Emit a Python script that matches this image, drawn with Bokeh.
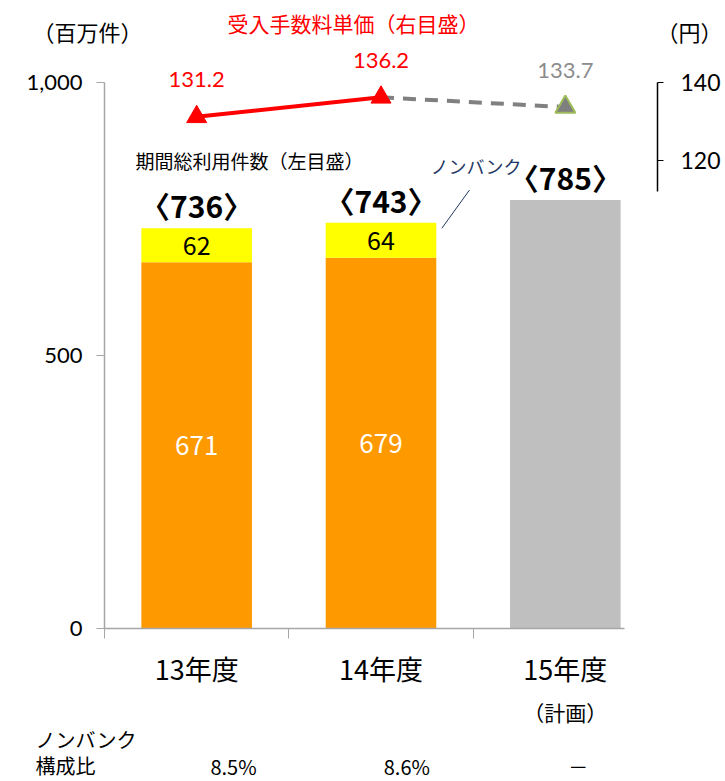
from bokeh.plotting import figure
from bokeh.models import Range1d, LinearAxis, FixedTicker, NumeralTickFormatter, Label, Arrow
from bokeh.core.properties import value
from bokeh.embed import file_html
from bokeh.resources import INLINE

# ---------------- data ----------------
categories = ["13年度", "14年度", "15年度"]
bank_counts = [671, 679]          # 百万件 (actual, excl. non-bank)
nonbank_counts = [62, 64]         # ノンバンク
total_labels = ["〈736〉", "〈743〉", "〈785〉"]
plan_total = [785]                # 15年度 計画
unit_price = [131.2, 136.2, 133.7]  # 受入手数料単価 (円)
nonbank_ratio = ["8.5%", "8.6%", "－"]
left_ticks = [0, 500, 1000]
right_ticks = [120, 140]

# ---------------- layout constants ----------------
W, H = 725, 781
FL, FR, FB = 104, 657, 628   # plot-area left / right / bottom (px)
AX_TOP = 82                  # px where 1,000 and 140 sit
Y_MAX, P_MAX = 1000, 140
n_cat = len(categories)
cat_w = (FR - FL) / n_cat
y_per_px = Y_MAX / (FB - AX_TOP)
p_per_px = P_MAX / (FB - AX_TOP)

def ypx(py):
    return (FB - py) * y_per_px

def xpx(px):
    return (px - FL) / cat_w

CJK_S = "Noto Sans CJK JP"
NUM_S = "Lato"
CJK = value(CJK_S)
NUM = value(NUM_S)

p = figure(width=W, height=H,
           x_range=Range1d(xpx(0), xpx(W)),
           y_range=Range1d(ypx(H), ypx(0)),
           output_backend="svg", toolbar_location=None, x_axis_type=None, y_axis_type=None,
           min_border_left=0, min_border_right=0, min_border_top=0, min_border_bottom=0)
p.extra_y_ranges = {"price": Range1d((FB - H) * p_per_px, FB * p_per_px)}
p.outline_line_color = None
p.background_fill_color = "white"
p.border_fill_color = "white"

xs = [i + 0.5 for i in range(n_cat)]
n_act = len(bank_counts)
stack_tops = [b + n for b, n in zip(bank_counts, nonbank_counts)]

# bars
p.vbar(x=xs[:n_act], bottom=0, top=bank_counts, width=0.6, fill_color="#FF9900", line_color=None)
p.vbar(x=xs[:n_act], bottom=bank_counts, top=stack_tops, width=0.6, fill_color="#FFFF00", line_color=None)
p.vbar(x=xs[n_act:], bottom=0, top=plan_total, width=0.6, fill_color="#BFBFBF", line_color=None)

# in-bar labels
p.text(x=xs[:n_act], y=[b / 2 for b in bank_counts], text=[str(v) for v in bank_counts],
       text_color="white", text_font=CJK, text_font_size="26px", text_align="center", text_baseline="middle")
p.text(x=xs[:n_act], y=[(b + t) / 2 for b, t in zip(bank_counts, stack_tops)], text=[str(v) for v in nonbank_counts],
       text_color="black", text_font=CJK, text_font_size="25px", text_align="center", text_baseline="middle")

# totals
all_tops = stack_tops + plan_total
p.text(x=xs, y=all_tops, text=total_labels, y_offset=-23, text_color="black", text_font=CJK,
       text_font_style="bold", text_font_size="30px", text_align="center", text_baseline="middle")

# price line
p.line(x=xs[n_act - 1:], y=unit_price[n_act - 1:], y_range_name="price", line_color="#808080",
       line_width=4, line_dash="13 9")
p.line(x=xs[:n_act], y=unit_price[:n_act], y_range_name="price", line_color="#FF0000", line_width=4)
p.scatter(x=xs[:n_act], y=unit_price[:n_act], y_range_name="price", marker="triangle", size=20,
          fill_color="#FF0000", line_color="#FF0000")
p.scatter(x=xs[n_act:], y=unit_price[n_act:], y_range_name="price", marker="triangle", size=20,
          fill_color="#7F7F7F", line_color="#9BBB59", line_width=2)
p.text(x=xs, y=unit_price, y_range_name="price", text=[f"{v:.1f}" for v in unit_price],
       y_offset=-37, text_color=["#FF0000"] * n_act + ["#8C8C8C"] * (len(unit_price) - n_act),
       text_font=NUM, text_font_size="22px", text_align="center", text_baseline="middle")

# axes (placed at fixed data locations inside the full-canvas frame)
left = LinearAxis(fixed_location=0, ticker=FixedTicker(ticks=left_ticks),
                  formatter=NumeralTickFormatter(format="0,0"),
                  bounds=(0, Y_MAX), axis_line_color="#A6A6A6", axis_line_width=1.5,
                  major_tick_line_color="#A6A6A6", major_tick_out=8, major_tick_in=0,
                  minor_tick_line_color=None, major_label_text_font_size="22px",
                  major_label_text_font=NUM_S, major_label_text_color="black", major_label_standoff=14)
p.add_layout(left, "left")

right = LinearAxis(fixed_location=n_cat, y_range_name="price", ticker=FixedTicker(ticks=right_ticks),
                   bounds=(112, P_MAX),
                   axis_line_color="black", axis_line_width=1.5, major_tick_line_color="black",
                   major_tick_out=6, major_tick_in=0, minor_tick_line_color=None,
                   major_label_text_font_size="23px", major_label_text_font=NUM_S,
                   major_label_text_color="black", major_label_standoff=17)
p.add_layout(right, "right")

bottom = LinearAxis(fixed_location=0, ticker=FixedTicker(ticks=xs, minor_ticks=list(range(n_cat))),
                    major_label_overrides={x: c for x, c in zip(xs, categories)},
                    bounds=(0, 2.82), axis_line_color="#A6A6A6", axis_line_width=1.5,
                    major_tick_line_color=None, major_tick_out=0, major_tick_in=0,
                    minor_tick_line_color="#A6A6A6", minor_tick_out=10, minor_tick_in=0,
                    major_label_text_font_size="27px", major_label_text_font=CJK_S,
                    major_label_text_color="black", major_label_standoff=10)
p.add_layout(bottom, "below")

def lab(text, x, y, color="black", size="20px", align="left", font=CJK_S, style="normal"):
    p.add_layout(Label(x=x, y=y, text=text, text_color=color, text_font_size=size, text_align=align,
                       text_baseline="middle", text_font=font, text_font_style=style))

lab("（百万件）", xpx(32), ypx(30), size="22px")
lab("（円）", xpx(656), ypx(30), size="22px")
lab("受入手数料単価（右目盛）", xpx(353), ypx(22), color="#FF0000", size="21px", align="center")
lab("期間総利用件数（左目盛）", xpx(135), ypx(160), size="19px")
lab("ノンバンク", xpx(430), ypx(165), color="#1F3864", size="18px")
p.add_layout(Arrow(end=None, x_start=xs[1] + 0.33, y_start=stack_tops[1] - 10,
                   x_end=xs[1] + 0.48, y_end=stack_tops[1] + 60, line_color="#1F3864", line_width=1))
lab("（計画）", xs[2], ypx(711), size="21px", align="center")
lab("ノンバンク", xpx(35), ypx(739), size="20px")
lab("構成比", xpx(35), ypx(765), size="20px")
ratio_shift = [0.2, 0.14, 0.07]
for i, r in enumerate(nonbank_ratio):
    lab(r, xs[i] + ratio_shift[i], ypx(766), size="20px", align="center")

open("out.html", "w").write(file_html(p, INLINE))
